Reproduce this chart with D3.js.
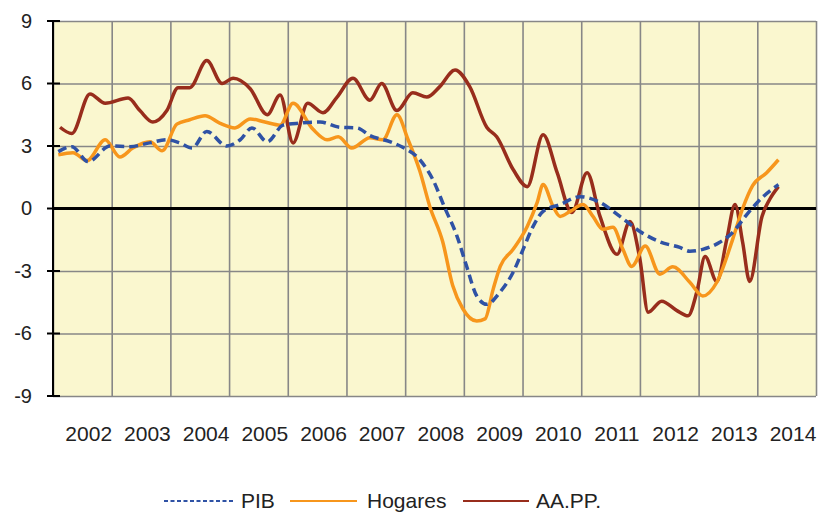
<!DOCTYPE html>
<html>
<head>
<meta charset="utf-8">
<script src="https://cdn.jsdelivr.net/npm/d3@7"></script>
<style>
  body { margin: 0; background: #fff; }
  svg { display: block; font-family: "Liberation Sans", Arial, sans-serif; }
  .eje text { fill: #222; }
</style>
</head>
<body>
<script>
// años (categorias del eje x) y marcas del eje y
const anios = [2002, 2003, 2004, 2005, 2006, 2007, 2008, 2009, 2010, 2011, 2012, 2013, 2014];
const marcasY = [-9, -6, -3, 0, 3, 6, 9];

// PIB (fecha en años fraccionarios, valor)
const pibT = [2002.09, 2002.32, 2002.60, 2002.97, 2003.31, 2003.65, 2003.94, 2004.16, 2004.37, 2004.62,
  2004.96, 2005.19, 2005.39, 2005.65, 2005.92, 2006.21, 2006.55, 2006.89, 2007.18, 2007.40, 2007.75,
  2007.95, 2008.25, 2008.47, 2008.68, 2008.88, 2009.05, 2009.22, 2009.39, 2009.62, 2009.84, 2010.01,
  2010.18, 2010.35, 2010.64, 2010.98, 2011.32, 2011.66, 2012.00, 2012.34, 2012.68, 2012.85, 2013.07,
  2013.36, 2013.58, 2013.82, 2014.10, 2014.36];
const pibV = [2.73, 2.97, 2.25, 3.0, 2.97, 3.15, 3.3, 3.15, 2.9, 3.7,
  3.0, 3.3, 3.87, 3.2, 4.0, 4.1, 4.15, 3.9, 3.87, 3.5, 3.2,
  2.95, 2.34, 1.4, 0.0, -1.3, -2.8, -4.2, -4.6, -4.0, -3.06, -1.96,
  -0.86, -0.14, 0.19, 0.57, 0.29, -0.38, -1.1, -1.6, -1.87, -2.05, -1.96,
  -1.62, -1.15, -0.29, 0.57, 1.15];

// Hogares
const hogT = [2002.09, 2002.34, 2002.58, 2002.89, 2003.14, 2003.36, 2003.65, 2003.86, 2004.11, 2004.33,
  2004.59, 2004.84, 2005.10, 2005.36, 2005.61, 2005.87, 2006.09, 2006.43, 2006.67, 2006.86, 2007.09,
  2007.40, 2007.62, 2007.86, 2008.05, 2008.25, 2008.42, 2008.64, 2008.81, 2008.98, 2009.22, 2009.36,
  2009.50, 2009.62, 2009.84, 2010.08, 2010.25, 2010.35, 2010.52, 2010.64, 2010.81, 2011.03, 2011.20,
  2011.37, 2011.54, 2011.71, 2011.86, 2012.09, 2012.34, 2012.56, 2012.85, 2013.07, 2013.31, 2013.58,
  2013.75, 2013.92, 2014.16, 2014.36];
const hogV = [2.58, 2.68, 2.3, 3.3, 2.47, 2.9, 3.2, 2.77, 4.05, 4.26,
  4.45, 4.1, 3.87, 4.3, 4.15, 4.0, 5.05, 3.8, 3.3, 3.44, 2.9,
  3.4, 3.3, 4.5, 3.3, 1.8, 0.1, -1.6, -3.7, -4.8, -5.4, -5.3,
  -3.87, -2.78, -1.96, -0.86, 0.29, 1.15, 0.1, -0.38, -0.14, 0.19, -0.38,
  -1.0, -0.9, -1.96, -2.78, -1.8, -3.15, -2.8, -3.54, -4.2, -3.54, -1.48,
  0.0, 1.1, 1.72, 2.34];

// AA.PP.
const aappT = [2002.12, 2002.32, 2002.63, 2002.89, 2003.28, 2003.48, 2003.70, 2003.94, 2004.13, 2004.33,
  2004.62, 2004.88, 2005.07, 2005.36, 2005.65, 2005.87, 2006.09, 2006.34, 2006.60, 2006.84, 2007.11,
  2007.40, 2007.60, 2007.86, 2008.13, 2008.37, 2008.59, 2008.85, 2009.10, 2009.39, 2009.56, 2009.84,
  2010.08, 2010.35, 2010.59, 2010.84, 2011.10, 2011.32, 2011.61, 2011.83, 2012.00, 2012.14, 2012.37,
  2012.63, 2012.82, 2012.97, 2013.11, 2013.31, 2013.48, 2013.62, 2013.75, 2013.87, 2014.08, 2014.21,
  2014.36];
const aappV = [3.9, 3.6, 5.5, 5.05, 5.3, 4.7, 4.15, 4.7, 5.8, 5.8,
  7.1, 6.0, 6.25, 5.75, 4.5, 5.45, 3.15, 5.05, 4.6, 5.35, 6.25,
  5.2, 6.0, 4.7, 5.55, 5.35, 5.85, 6.65, 5.85, 3.9, 3.44, 1.87,
  1.05, 3.54, 1.72, -0.19, 1.72, -0.38, -2.2, -0.62, -2.44, -4.98, -4.45,
  -4.9, -5.15, -4.0, -2.3, -3.5, -1.48, 0.19, -1.62, -3.5, -0.38, 0.43,
  1.05];

const series = [
  { nombre: "PIB", t: pibT, v: pibV, color: "#2f52a5", dash: "9,5" },
  { nombre: "Hogares", t: hogT, v: hogV, color: "#f7961c", dash: null },
  { nombre: "AA.PP.", t: aappT, v: aappV, color: "#982d1c", dash: null }
];

const width = 819, height = 514;
const izq = 53, der = 816, arriba = 21, abajo = 396;

const svg = d3.select("body").append("svg")
  .attr("width", width)
  .attr("height", height);

const x = d3.scaleLinear().domain([2002, 2015]).range([izq, der]);
const y = d3.scaleLinear().domain([-9, 9]).range([abajo, arriba]);

// fondo
svg.append("rect")
  .attr("x", izq).attr("y", arriba)
  .attr("width", der - izq).attr("height", abajo - arriba)
  .attr("fill", "#faf7cf");

// rejilla vertical
svg.append("g")
  .attr("transform", `translate(0,${abajo})`)
  .call(d3.axisBottom(x).tickValues(d3.range(2002, 2016)).tickSize(-(abajo - arriba)).tickFormat(""))
  .call(g => g.select(".domain").remove())
  .call(g => g.selectAll("line").attr("stroke", "#878787").attr("stroke-width", 1.6));

// rejilla horizontal
svg.append("g")
  .attr("transform", `translate(${izq},0)`)
  .call(d3.axisLeft(y).tickValues(marcasY).tickSize(-(der - izq)).tickFormat(""))
  .call(g => g.select(".domain").remove())
  .call(g => g.selectAll("line").attr("stroke", "#878787").attr("stroke-width", 1.6));

// etiquetas eje y (guion normal, como el original)
svg.append("g")
  .attr("class", "eje")
  .attr("transform", "translate(32,0)")
  .call(d3.axisLeft(y).tickValues(marcasY).tickFormat(d => String(d)).tickSize(0).tickPadding(0))
  .call(g => g.select(".domain").remove())
  .call(g => g.selectAll("text").attr("font-size", 20).attr("font-family", "Liberation Sans, Arial"));

// etiquetas de años
svg.append("g")
  .attr("class", "eje")
  .attr("transform", `translate(0,${abajo})`)
  .call(d3.axisBottom(x).tickValues(anios.map(a => a + 0.6)).tickFormat((d, i) => anios[i]).tickSize(0).tickPadding(30))
  .call(g => g.select(".domain").remove())
  .call(g => g.selectAll("text").attr("font-size", 21).attr("font-family", "Liberation Sans, Arial"));

// eje izquierdo con marcas
svg.append("line")
  .attr("x1", izq).attr("x2", izq).attr("y1", arriba).attr("y2", abajo)
  .attr("stroke", "#000").attr("stroke-width", 2);
svg.append("g").selectAll("line")
  .data(marcasY)
  .join("line")
  .attr("x1", izq - 6).attr("x2", izq + 7)
  .attr("y1", d => y(d)).attr("y2", d => y(d))
  .attr("stroke", "#000").attr("stroke-width", 2);

// linea de cero
svg.append("line")
  .attr("x1", izq).attr("x2", der).attr("y1", y(0)).attr("y2", y(0))
  .attr("stroke", "#000").attr("stroke-width", 3);

const linea = d3.line()
  .x(d => x(d[0]))
  .y(d => y(d[1]))
  .curve(d3.curveMonotoneX);

// PIB encima de todo, como en el original
[series[2], series[1], series[0]].forEach(s => {
  svg.append("path")
    .datum(s.t.map((t, i) => [t, s.v[i]]))
    .attr("d", linea)
    .attr("fill", "none")
    .attr("stroke", s.color)
    .attr("stroke-width", 3.5)
    .attr("stroke-linejoin", "round")
    .attr("stroke-dasharray", s.dash);
});

// leyenda
const leyenda = [
  { x1: 164, x2: 233, tx: 241 },
  { x1: 290, x2: 357, tx: 367 },
  { x1: 463, x2: 529, tx: 536 }
];
const gl = svg.append("g");
series.forEach((s, i) => {
  const l = leyenda[i];
  gl.append("line")
    .attr("x1", l.x1).attr("x2", l.x2).attr("y1", 501).attr("y2", 501)
    .attr("stroke", s.color).attr("stroke-width", 2)
    .attr("stroke-dasharray", s.dash ? "4,2.5" : null);
  gl.append("text")
    .attr("x", l.tx).attr("y", 508)
    .attr("font-size", 21)
    .attr("fill", "#222")
    .text(s.nombre);
});
</script>
</body>
</html>
